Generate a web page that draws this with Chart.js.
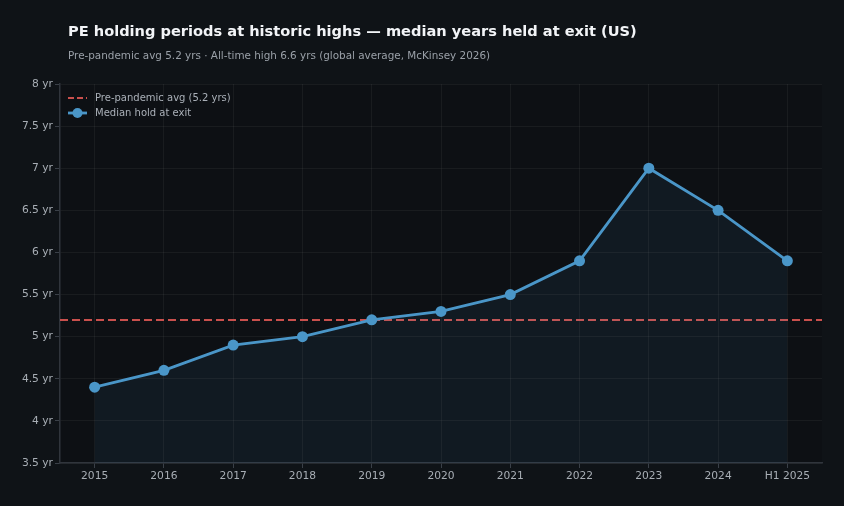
<!DOCTYPE html>
<html>
<head>
<meta charset="utf-8">
<script src="https://cdn.jsdelivr.net/npm/chart.js@4"></script>
<style>
  html, body { margin: 0; padding: 0; background: #0f1317; }
  #wrap { position: relative; width: 844px; height: 506px; overflow: hidden; }
  #chartCanvas { position: absolute; left: 0; top: 0; }
  .title { position: absolute; left: 68px; top: 22px; color: #f2f4f7; font: bold 14.6px "DejaVu Sans", sans-serif; white-space: nowrap; }
  .subtitle { position: absolute; left: 68px; top: 49px; color: #9aa0a8; font: 10.4px "DejaVu Sans", sans-serif; white-space: nowrap; }
</style>
</head>
<body>
<div id="wrap">
  <canvas id="chartCanvas" width="844" height="506"></canvas>
  <div class="title">PE holding periods at historic highs — median years held at exit (US)</div>
  <div class="subtitle">Pre-pandemic avg 5.2 yrs · All-time high 6.6 yrs (global average, McKinsey 2026)</div>
</div>
<script>
// data
const periods = ['2015', '2016', '2017', '2018', '2019', '2020', '2021', '2022', '2023', '2024', 'H1 2025'];
const medianHold = [4.4, 4.6, 4.9, 5.0, 5.2, 5.3, 5.5, 5.9, 7.0, 6.5, 5.9];
const preAvg = 5.2;
const yMin = 3.5;
const yMax = 8;

const legendLabels = ['Pre-pandemic avg (5.2 yrs)', 'Median hold at exit'];

const blue = '#4a96c8';
const red = '#c9504d';

// plot background, the pre-pandemic line across the whole plot, and the legend
const extras = {
    id: 'extras',
    beforeDraw(chart) {
        const a = chart.chartArea;
        const ctx = chart.ctx;
        ctx.save();
        ctx.fillStyle = '#0d1014';
        ctx.fillRect(a.left, a.top, a.right - a.left, a.bottom - a.top);
        ctx.restore();
    },
    beforeDatasetsDraw(chart) {
        const a = chart.chartArea;
        const y = Math.round(chart.scales.y.getPixelForValue(preAvg));
        const ctx = chart.ctx;
        ctx.save();
        ctx.strokeStyle = red;
        ctx.lineWidth = 2;
        ctx.setLineDash([8, 4]);
        ctx.beginPath();
        ctx.moveTo(a.left, y);
        ctx.lineTo(a.right, y);
        ctx.stroke();
        ctx.restore();
    },
    afterDraw(chart) {
        const a = chart.chartArea;
        const ctx = chart.ctx;
        const x0 = a.left + 8;
        const y1 = a.top + 14;
        const y2 = a.top + 29;
        ctx.save();
        // dashed symbol
        ctx.strokeStyle = red;
        ctx.lineWidth = 2;
        ctx.setLineDash([6, 3]);
        ctx.beginPath();
        ctx.moveTo(x0, y1);
        ctx.lineTo(x0 + 19, y1);
        ctx.stroke();
        // line + marker symbol
        ctx.setLineDash([]);
        ctx.strokeStyle = blue;
        ctx.lineWidth = 2.8;
        ctx.beginPath();
        ctx.moveTo(x0, y2);
        ctx.lineTo(x0 + 19, y2);
        ctx.stroke();
        ctx.fillStyle = blue;
        ctx.beginPath();
        ctx.arc(x0 + 9.5, y2, 5, 0, Math.PI * 2);
        ctx.fill();
        // texts
        ctx.fillStyle = '#aab0b8';
        ctx.font = '10px "DejaVu Sans"';
        ctx.textBaseline = 'middle';
        ctx.fillText(legendLabels[0], x0 + 27, y1);
        ctx.fillText(legendLabels[1], x0 + 27, y2);
        ctx.restore();
    }
};

const ctx = document.getElementById('chartCanvas').getContext('2d');

let chart = new Chart(ctx, {
    type: 'line',
    data: {
        labels: periods,
        datasets: [{
            label: legendLabels[1],
            data: medianHold,
            borderColor: blue,
            borderWidth: 2.8,
            pointRadius: 5.5,
            pointBackgroundColor: blue,
            pointBorderWidth: 0,
            tension: 0,
            fill: 'start',
            backgroundColor: 'rgba(74, 150, 200, 0.08)'
        }]
    },
    options: {
        responsive: false,
        animation: false,
        devicePixelRatio: 1,
        layout: { padding: { top: 84, right: 22, bottom: 0, left: 0 } },
        plugins: {
            tooltip: { enabled: false },
            legend: { display: false }
        },
        scales: {
            x: {
                offset: true,
                afterFit: (scale) => { scale.height = 43; },
                grid: { color: 'rgba(255,255,255,0.05)', tickColor: '#3a4048', tickLength: 5, offset: false },
                border: { color: '#30353c', width: 1.5 },
                ticks: { color: '#a8aeb5', font: { family: 'DejaVu Sans', size: 10.7 }, padding: 2, maxRotation: 0 }
            },
            y: {
                min: yMin,
                max: yMax,
                afterFit: (scale) => { scale.width = 60; },
                grid: { color: 'rgba(255,255,255,0.05)', tickColor: '#3a4048', tickLength: 5 },
                border: { color: '#30353c', width: 1.5 },
                ticks: {
                    stepSize: 0.5,
                    color: '#a8aeb5',
                    font: { family: 'DejaVu Sans', size: 10.7 },
                    padding: 2,
                    callback: (v) => v + ' yr'
                }
            }
        }
    },
    plugins: [extras]
});
</script>
</body>
</html>
